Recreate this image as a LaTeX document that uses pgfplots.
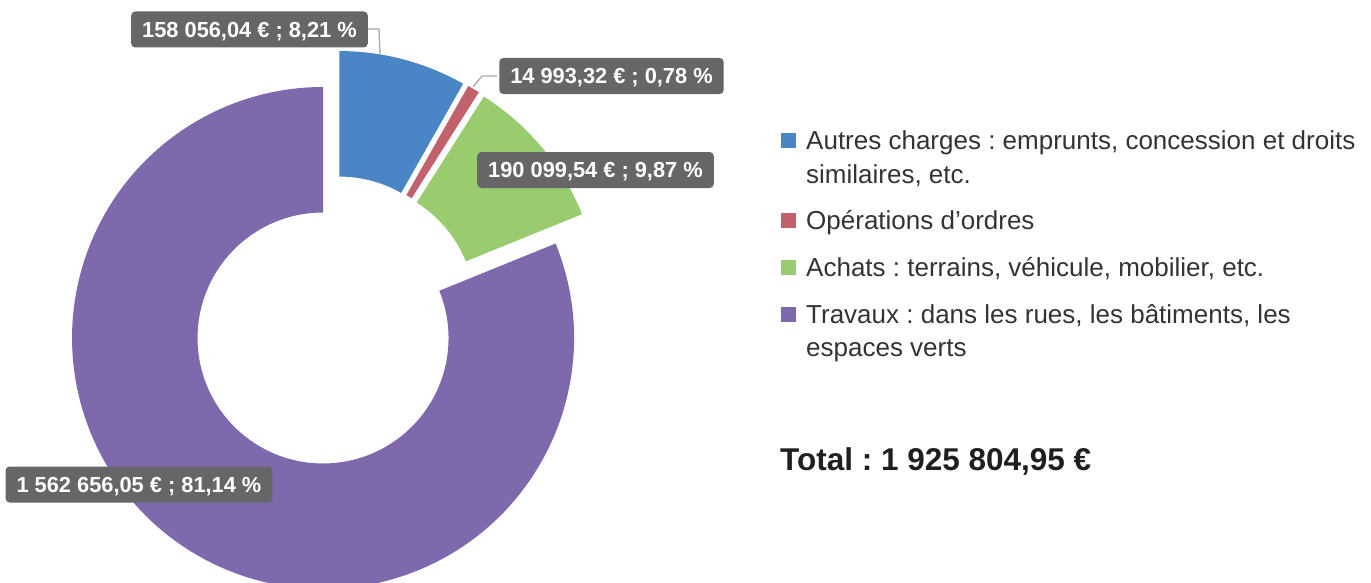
\documentclass[border=0pt]{standalone}
\usepackage{fontspec}
\setmainfont{Liberation Sans}
\usepackage{pgfplots}
\usepackage{pgfplotstable}
\pgfplotsset{compat=1.18}
\definecolor{cA}{HTML}{4A86C6}
\definecolor{cB}{HTML}{C2606B}
\definecolor{cC}{HTML}{98CC6E}
\definecolor{cD}{HTML}{7F69AD}
\definecolor{lab}{HTML}{666668}
\definecolor{txt}{HTML}{333333}
\definecolor{lead}{HTML}{A8A8A8}

% value (EUR) and share (%)
\pgfplotstableread{
value pct
158056.04 8.21
14993.32 0.78
190099.54 9.87
1562656.05 81.14
}\data

\newcommand\legfont{\fontsize{26}{30}\selectfont}
\newcommand\labfont{\bfseries\fontsize{21.8}{26}\selectfont}

% slice: start angle, end angle (clockwise from 12 o'clock, deg), colour
\newcommand\slice[3]{%
  \pgfmathsetmacro\sa{90-#1}%
  \pgfmathsetmacro\ea{90-#2}%
  \pgfmathsetmacro\ma{90-(#1+#2)/2}%
  \fill[#3, shift={(axis cs:334.2,321.4)}, shift={(\ma:20pt)}]
    (\sa:251pt) arc[start angle=\sa, end angle=\ea, radius=251pt]
    -- (\ea:125.5pt) arc[start angle=\ea, end angle=\sa, radius=125.5pt] -- cycle;}

\begin{document}
\frenchspacing
\begin{tikzpicture}
\useasboundingbox (0,0) rectangle (1371pt,583pt);
\clip (0,0) rectangle (1371pt,583pt);
\pgfplotstablegetelem{0}{pct}\of\data\pgfmathsetmacro\pA{\pgfplotsretval}
\pgfplotstablegetelem{1}{pct}\of\data\pgfmathsetmacro\pB{\pgfplotsretval}
\pgfplotstablegetelem{2}{pct}\of\data\pgfmathsetmacro\pC{\pgfplotsretval}
\pgfplotstablegetelem{3}{pct}\of\data\pgfmathsetmacro\pD{\pgfplotsretval}
\pgfmathsetmacro\aB{\pA*3.6}
\pgfmathsetmacro\aC{\aB+\pB*3.6}
\pgfmathsetmacro\aD{\aC+\pC*3.6}
\pgfmathsetmacro\aE{\aD+\pD*3.6}
\begin{axis}[scale only axis, width=1371pt, height=583pt,
  xmin=0, xmax=1371, ymin=0, ymax=583, y dir=reverse,
  hide axis, at={(0,0)}, anchor=south west, clip=false]
\pgfplotsextra{\slice{0}{\aB}{cA}}
\pgfplotsextra{\slice{\aB}{\aC}{cB}}
\pgfplotsextra{\slice{\aC}{\aD}{cC}}
\pgfplotsextra{\slice{\aD}{\aE}{cD}}

% leader lines
\draw[lead, line width=1.3pt] (axis cs:368,29) -- (axis cs:379,29) -- (axis cs:380,54);
\draw[lead, line width=1.3pt] (axis cs:497,76) -- (axis cs:482,76) -- (axis cs:473,87);

% data labels
\tikzset{lbl/.style={fill=lab, text=white, rounded corners=4pt, font=\labfont,
  inner xsep=11pt, inner ysep=0pt, text height=15.5pt, text depth=0pt, minimum height=36pt}}
\node[lbl] at (axis cs:249.5,29.5) {158 056,04 € ; 8,21 \%};
\node[lbl] at (axis cs:611.5,76) {14 993,32 € ; 0,78 \%};
\node[lbl] at (axis cs:595.5,170) {190 099,54 € ; 9,87 \%};
\node[lbl] at (axis cs:139,484.5) {1 562 656,05 € ; 81,14 \%};

% legend
\fill[cA] (axis cs:781,133) rectangle (axis cs:796,148);
\fill[cB] (axis cs:781,213) rectangle (axis cs:796,228);
\fill[cC] (axis cs:781,260) rectangle (axis cs:796,275);
\fill[cD] (axis cs:781,307) rectangle (axis cs:796,322);
\tikzset{leg/.style={anchor=base west, inner sep=0pt, font=\legfont, text=txt}}
\node[leg] at (axis cs:806,149) {Autres charges : emprunts, concession et droits};
\node[leg] at (axis cs:806,183) {similaires, etc.};
\node[leg] at (axis cs:806,229) {Opérations d’ordres};
\node[leg] at (axis cs:806,276) {Achats : terrains, véhicule, mobilier, etc.};
\node[leg] at (axis cs:806,323) {Travaux : dans les rues, les bâtiments, les};
\node[leg] at (axis cs:806,356) {espaces verts};

\node[anchor=base west, inner sep=0pt, font=\bfseries\fontsize{31.5}{36}\selectfont, text=black!88]
  at (axis cs:780,470) {Total : 1 925 804,95 €};
\end{axis}
\end{tikzpicture}
\end{document}
